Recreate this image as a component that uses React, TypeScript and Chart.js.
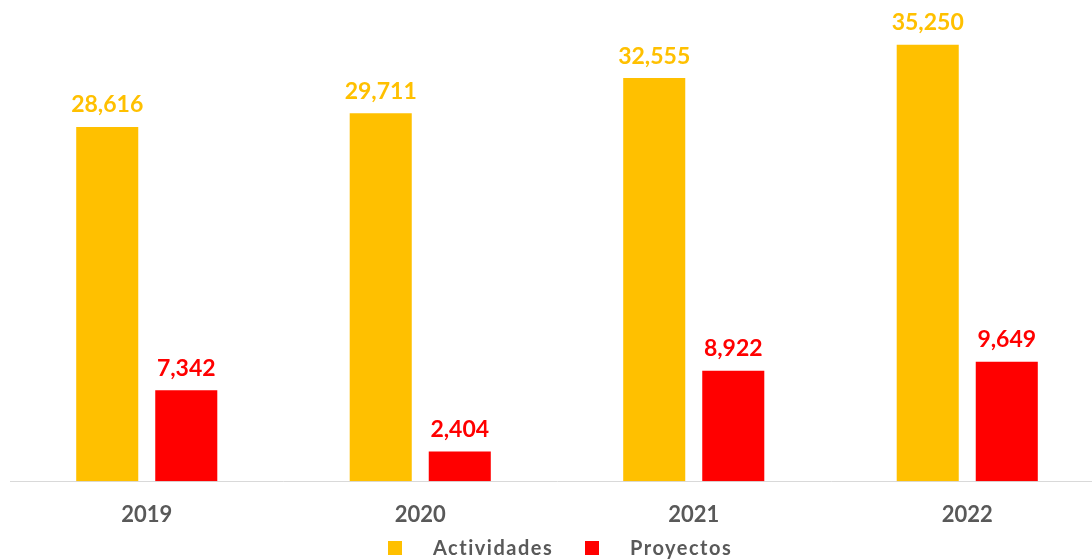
import React, { useEffect, useRef } from "react";
import { Chart, registerables } from "chart.js";

Chart.register(...registerables);

const categories = ["2019", "2020", "2021", "2022"];
const actividades = [28616, 29711, 32555, 35250];
const proyectos = [7342, 2404, 8922, 9649];
const seriesNames = ["Actividades", "Proyectos"];
const seriesColors = ["#FFC000", "#FF0000"];

const FONT = "Lato, 'Open Sans', sans-serif";

const labelPlugin = {
  id: "valueLabels",
  afterDatasetsDraw(chart: any) {
    const ctx = chart.ctx;
    ctx.save();
    ctx.font = `bold 23px ${FONT}`;
    ctx.textAlign = "center";
    ctx.textBaseline = "middle";
    chart.data.datasets.forEach((ds: any, i: number) => {
      const meta = chart.getDatasetMeta(i);
      ctx.fillStyle = seriesColors[i];
      meta.data.forEach((bar: any, j: number) => {
        const v = ds.data[j] as number;
        ctx.fillText(v.toLocaleString("en-US"), bar.x, bar.y - 22);
      });
    });
    ctx.restore();
  },
};

const legendPlugin = {
  id: "customLegend",
  afterDraw(chart: any) {
    const ctx = chart.ctx;
    ctx.save();
    ctx.font = `bold 20px ${FONT}`;
    ctx.textBaseline = "middle";
    ctx.textAlign = "left";
    (ctx as any).letterSpacing = "1.5px";
    const y = 548;
    const starts = [388, 585];
    seriesNames.forEach((name, i) => {
      const x = starts[i];
      ctx.fillStyle = seriesColors[i];
      ctx.fillRect(x, y - 7, 14, 14);
      ctx.fillStyle = "#595959";
      ctx.fillText(name, x + 45, y + 1);
    });
    ctx.restore();
  },
};

export default function App() {
  const ref = useRef<HTMLCanvasElement>(null);
  useEffect(() => {
    if (!ref.current) return;
    const chart = new Chart(ref.current, {
      type: "bar",
      data: {
        labels: categories,
        datasets: [
          {
            label: seriesNames[0],
            data: actividades,
            backgroundColor: seriesColors[0],
            categoryPercentage: 0.578,
            barPercentage: 0.785,
          },
          {
            label: seriesNames[1],
            data: proyectos,
            backgroundColor: seriesColors[1],
            categoryPercentage: 0.578,
            barPercentage: 0.785,
          },
        ],
      },
      options: {
        responsive: false,
        animation: false,
        layout: { padding: { left: 10, right: 0, top: 10.7, bottom: 18.4 } },
        plugins: {
          legend: { display: false },
          tooltip: { enabled: false },
        },
        scales: {
          x: {
            grid: { display: false },
            border: { display: true, color: "#D9D9D9", width: 1 },
            ticks: {
              padding: 13,
              color: "#595959",
              font: { family: FONT, size: 22, weight: "bold", lineHeight: 1.2 },
            },
          },
          y: {
            display: false,
            min: 0,
            max: 38000,
          },
        },
      },
      plugins: [labelPlugin, legendPlugin],
    });
    return () => chart.destroy();
  }, []);
  return (
    <div
      style={{
        position: "absolute",
        left: 0,
        top: 0,
        width: 1092,
        height: 560,
        overflow: "hidden",
        background: "#fff",
      }}
    >
      <canvas ref={ref} width={1104} height={560} style={{ display: "block" }} />
    </div>
  );
}
